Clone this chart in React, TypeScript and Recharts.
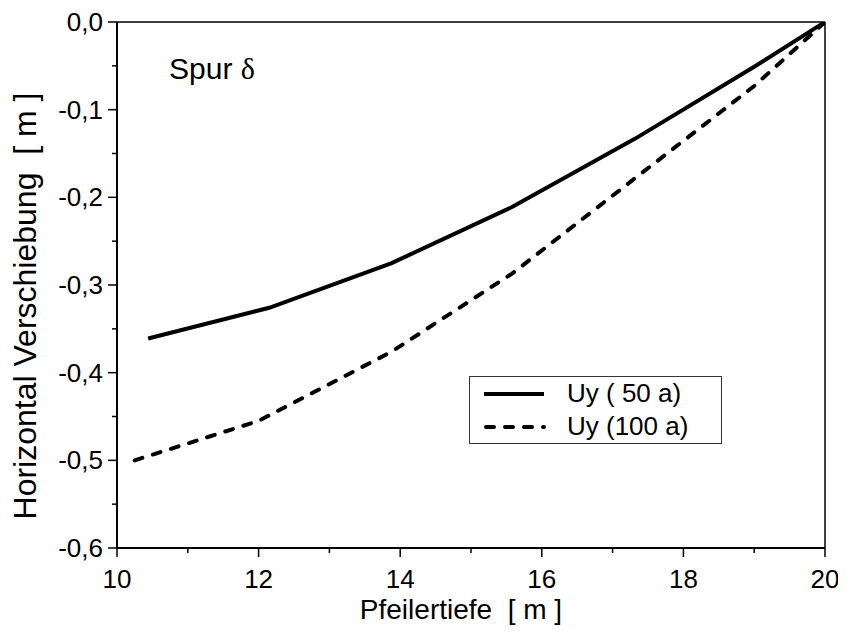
import React from 'react';
import { LineChart, Line, XAxis, YAxis, ReferenceLine } from 'recharts';

const depth50 = [10.44, 12.15, 13.88, 15.58, 17.32, 19.0, 20];
const uy50 = [-0.361, -0.326, -0.275, -0.211, -0.133, -0.051, 0];
const depth100 = [10.25, 12.0, 13.88, 15.58, 17.32, 19.0, 20];
const uy100 = [-0.5, -0.455, -0.376, -0.287, -0.178, -0.073, 0];

const xTicks = [10, 11, 12, 13, 14, 15, 16, 17, 18, 19, 20];
const yTicks = [-0.6, -0.55, -0.5, -0.45, -0.4, -0.35, -0.3, -0.25, -0.2, -0.15, -0.1, -0.05, 0];
const yMajor = [-0.6, -0.5, -0.4, -0.3, -0.2, -0.1, 0];

const xTitle = 'Pfeilertiefe\u00A0\u00A0[\u00A0m\u00A0]';
const yTitle = 'Horizontal\u00A0Verschiebung\u00A0\u00A0[\u00A0m\u00A0]';

const series50 = depth50.map((d, i) => ({ d, v: uy50[i] }));
const series100 = depth100.map((d, i) => ({ d, v: uy100[i] }));

const FONT = '"Liberation Sans", Arial, sans-serif';
const TICK_FS = 26;

const XTick = (props: any) => {
  const { x, y, payload } = props;
  const major = payload.value % 2 === 0;
  return (
    <g>
      <line x1={x} y1={y} x2={x} y2={y + (major ? 9 : 5)} stroke="#000" strokeWidth={1.5} />
      {major && (
        <text x={x} y={y + 40} textAnchor="middle" fontSize={TICK_FS} fontFamily={FONT} fill="#000">
          {payload.value}
        </text>
      )}
    </g>
  );
};

const YTick = (props: any) => {
  const { x, y, payload } = props;
  const major = yMajor.some((m) => Math.abs(m - payload.value) < 1e-6);
  return (
    <g>
      <line x1={x - (major ? 9 : 5)} y1={y} x2={x} y2={y} stroke="#000" strokeWidth={1.5} />
      {major && (
        <text x={x - 14} y={y + 9} textAnchor="end" fontSize={TICK_FS} fontFamily={FONT} fill="#000">
          {payload.value.toFixed(1).replace('.', ',')}
        </text>
      )}
    </g>
  );
};

const XTitle = () => (
  <text x={453} y={611} textAnchor="middle" fontSize={28} fontFamily={FONT} fill="#000">
    {xTitle}
  </text>
);

const YTitle = () => (
  <text
    x={28}
    y={298}
    transform="rotate(-90 28 298)"
    textAnchor="middle"
    fontSize={32}
    fontFamily={FONT}
    fill="#000"
  >
    {yTitle}
  </text>
);

export default function App() {
  return (
    <div style={{ position: 'relative', width: 838, height: 630, fontFamily: FONT }}>
      <LineChart width={838} height={630} margin={{ top: 14, right: 21, bottom: 0, left: 0 }}>
        <XAxis
          dataKey="d"
          type="number"
          domain={[10, 20]}
          ticks={xTicks}
          interval={0}
          allowDataOverflow
          height={90}
          tickSize={0}
          tickMargin={0}
          tickLine={false}
          tick={<XTick />}
          axisLine={{ stroke: '#000', strokeWidth: 2 }}
          label={XTitle}
        />
        <YAxis
          dataKey="v"
          type="number"
          domain={[-0.6, 0]}
          ticks={yTicks}
          interval={0}
          allowDataOverflow
          width={109}
          tickSize={0}
          tickMargin={0}
          tickLine={false}
          tick={<YTick />}
          axisLine={{ stroke: '#000', strokeWidth: 2 }}
          label={YTitle}
        />
        <ReferenceLine y={0} stroke="#000" strokeWidth={1.5} />
        <ReferenceLine x={20} stroke="#000" strokeWidth={1.5} />
        <Line
          data={series50}
          dataKey="v"
          type="linear"
          stroke="#000"
          strokeWidth={4}
          dot={false}
          isAnimationActive={false}
        />
        <Line
          data={series100}
          dataKey="v"
          type="linear"
          stroke="#000"
          strokeWidth={4}
          strokeDasharray="8 11"
          strokeLinecap="round"
          dot={false}
          isAnimationActive={false}
        />
      </LineChart>
      <div style={{ position: 'absolute', left: 161, top: 44, fontSize: 30, color: '#000', whiteSpace: 'pre' }}>
        Spur <span style={{ fontFamily: '"Liberation Serif", serif' }}>δ</span>
      </div>
      <div
        style={{
          position: 'absolute',
          left: 461,
          top: 368,
          width: 251,
          height: 66,
          border: '1.5px solid #333',
          background: '#fff',
          fontSize: 26,
          color: '#000',
        }}
      >
        <svg style={{ position: 'absolute', left: 0, top: 0 }} width={251} height={66}>
          <line x1={14} y1={17} x2={74} y2={17} stroke="#000" strokeWidth={4} />
          <line x1={16} y1={50} x2={74} y2={50} stroke="#000" strokeWidth={4} strokeDasharray="8 11" strokeLinecap="round" />
        </svg>
        <div style={{ position: 'absolute', left: 97, top: 1, whiteSpace: 'pre' }}>Uy ( 50 a)</div>
        <div style={{ position: 'absolute', left: 97, top: 34, whiteSpace: 'pre' }}>Uy (100 a)</div>
      </div>
    </div>
  );
}
